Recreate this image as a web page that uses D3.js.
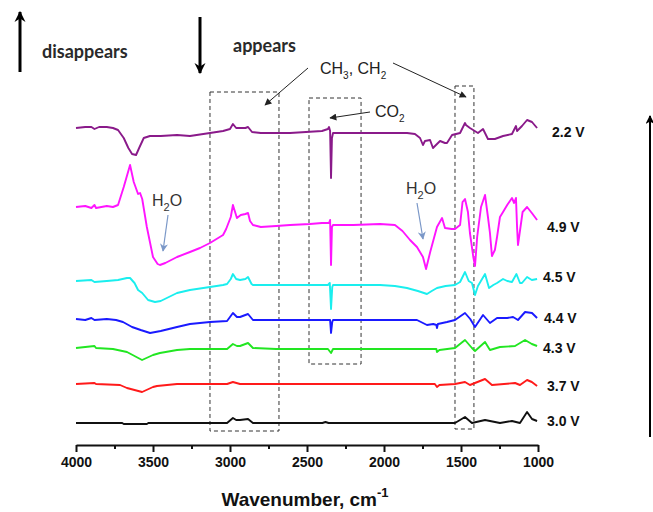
<!DOCTYPE html>
<html lang="en">
<head>
<meta charset="UTF-8">
<title>FTIR spectra vs voltage</title>
<script src="https://d3js.org/d3.v7.min.js"></script>
<style>
  body { margin: 0; background: #fff; font-family: "Liberation Sans", Arial, sans-serif; }
  .axis .domain, .axis line { stroke: #111; stroke-width: 2; }
  .axis text { font-family: "Liberation Sans", Arial, sans-serif; font-size: 14px; font-weight: bold; fill: #111; }
</style>
</head>
<body>
<div id="chart"></div>
<script>
// [wavenumber cm-1, absorbance change] per voltage
const spec30 = [[4000,0],[3700,0],[3690,-0.01],[3540,-0.01],[3530,0],[3019,0],[2981,0.05],[2960,0.03],[2935,0.03],[2883,0.04],[2851,0],[2400,0],[2380,0.01],[2360,0],[1539,0],[1474,0.06],[1429,0],[1344,0.03],[1247,0],[1169,0.02],[1117,0],[1071,0.11],[1039,0.04],[1006,0.02]];
const spec37 = [[4000,0],[3880,0.01],[3870,0],[3714,-0.01],[3669,-0.04],[3571,-0.08],[3500,-0.03],[3474,-0.02],[3344,0],[3019,0],[2981,0.02],[2935,0],[2700,0],[1800,0],[1670,0],[1656,-0.03],[1640,-0.01],[1539,0],[1474,0.02],[1442,-0.01],[1344,0.05],[1299,-0.01],[1149,0.01],[1117,-0.01],[1071,0.04],[1040,0.02],[1006,-0.02]];
const spec43 = [[4000,0],[3880,0.02],[3870,0],[3760,-0.01],[3669,-0.04],[3620,-0.08],[3571,-0.12],[3500,-0.07],[3455,-0.05],[3344,-0.02],[3260,-0.01],[3019,-0.01],[2981,0.04],[2955,0.02],[2935,0.02],[2883,0.05],[2851,0],[2700,-0.01],[2364,-0.01],[2344,-0.05],[2331,-0.01],[1800,-0.01],[1660,-0.01],[1656,-0.04],[1640,-0.02],[1539,0],[1474,0.08],[1429,0],[1409,-0.03],[1344,0.06],[1312,-0.02],[1247,0.01],[1149,0.02],[1084,0.08],[1040,0.04],[1006,0.02]];
const spec44 = [[4000,0],[3940,-0.01],[3900,0.01],[3880,-0.01],[3800,0],[3740,-0.01],[3695,-0.03],[3636,-0.08],[3580,-0.11],[3519,-0.14],[3450,-0.12],[3344,-0.08],[3260,-0.05],[3130,-0.03],[3019,-0.02],[2981,0.06],[2955,0.02],[2935,0.02],[2883,0.05],[2851,-0.01],[2700,-0.01],[2350,-0.01],[2344,-0.14],[2336,-0.03],[2331,-0.01],[1786,-0.01],[1721,-0.06],[1680,-0.05],[1660,-0.06],[1656,-0.09],[1650,-0.05],[1591,-0.03],[1539,-0.01],[1474,0.06],[1440,0],[1409,-0.08],[1357,0.04],[1312,-0.04],[1266,0.01],[1200,0.01],[1162,0.02],[1130,-0.01],[1084,0.07],[1039,0.06],[1006,0.01]];
const spec45 = [[4000,0],[3900,0.01],[3880,-0.01],[3800,0],[3727,0.01],[3669,0.03],[3649,0.03],[3620,-0.02],[3597,-0.09],[3570,-0.12],[3532,-0.19],[3487,-0.21],[3450,-0.2],[3344,-0.12],[3260,-0.09],[3130,-0.06],[3045,-0.04],[3019,-0.03],[2995,0.02],[2981,0.07],[2960,0.02],[2935,0.01],[2900,0.02],[2883,0.04],[2860,-0.03],[2851,-0.04],[2700,-0.04],[2364,-0.04],[2352,-0.02],[2344,-0.28],[2336,-0.06],[2331,-0.04],[2026,-0.04],[1929,-0.05],[1851,-0.07],[1780,-0.1],[1721,-0.13],[1690,-0.1],[1656,-0.07],[1600,-0.05],[1539,-0.04],[1506,-0.01],[1474,0.09],[1450,0],[1429,-0.02],[1409,-0.14],[1390,-0.05],[1344,0.07],[1318,-0.07],[1290,-0.04],[1266,-0.02],[1227,0.02],[1200,0],[1169,-0.01],[1140,0.07],[1117,-0.02],[1104,-0.02],[1071,0.04],[1040,0.01],[1006,0.02]];
const spec49 = [[4000,0],[3940,0.01],[3900,-0.01],[3880,0.02],[3870,-0.01],[3800,0.01],[3760,0],[3727,0.02],[3690,0.2],[3649,0.42],[3625,0.25],[3597,0.13],[3584,0.14],[3570,0.08],[3540,-0.2],[3500,-0.5],[3470,-0.57],[3455,-0.58],[3420,-0.56],[3344,-0.5],[3260,-0.45],[3195,-0.41],[3130,-0.36],[3045,-0.28],[3025,-0.22],[2995,-0.1],[2981,0.02],[2965,-0.06],[2955,-0.11],[2930,-0.08],[2900,-0.07],[2883,-0.06],[2870,-0.14],[2851,-0.18],[2800,-0.2],[2700,-0.19],[2610,-0.18],[2481,-0.17],[2403,-0.16],[2357,-0.16],[2350,-0.13],[2344,-0.58],[2338,-0.2],[2331,-0.18],[2200,-0.18],[2026,-0.17],[1929,-0.18],[1880,-0.24],[1831,-0.33],[1786,-0.4],[1747,-0.5],[1727,-0.62],[1700,-0.45],[1656,-0.2],[1623,-0.11],[1604,-0.21],[1560,-0.22],[1539,-0.22],[1506,-0.18],[1490,0.05],[1474,0.08],[1455,-0.05],[1442,-0.26],[1420,-0.5],[1409,-0.59],[1395,-0.3],[1370,0],[1344,0.12],[1325,-0.1],[1312,-0.26],[1299,-0.49],[1280,-0.43],[1266,-0.3],[1247,-0.1],[1227,-0.05],[1200,0.02],[1169,0.09],[1155,0.04],[1143,0.09],[1136,-0.2],[1130,-0.38],[1100,-0.05],[1071,0],[1040,-0.06],[1006,-0.13]];
const spec22 = [[4000,0],[3940,0.01],[3900,0.01],[3880,-0.01],[3850,0.01],[3800,0.01],[3760,0],[3727,-0.02],[3690,-0.1],[3660,-0.2],[3636,-0.26],[3610,-0.27],[3590,-0.2],[3560,-0.1],[3520,-0.08],[3450,-0.08],[3344,-0.07],[3260,-0.08],[3130,-0.05],[3045,-0.03],[3000,-0.01],[2981,0.04],[2960,0],[2935,0],[2900,0],[2883,0.01],[2857,-0.04],[2800,-0.05],[2610,-0.05],[2403,-0.03],[2364,-0.01],[2357,0.01],[2350,-0.03],[2344,-0.5],[2338,-0.1],[2331,-0.05],[2026,-0.05],[1850,-0.05],[1799,-0.06],[1766,-0.1],[1747,-0.17],[1734,-0.13],[1701,-0.12],[1682,-0.2],[1669,-0.18],[1636,-0.13],[1604,-0.15],[1591,-0.15],[1558,-0.07],[1506,-0.05],[1474,0.05],[1468,0.03],[1442,0],[1390,-0.05],[1357,-0.01],[1325,-0.11],[1280,-0.11],[1227,-0.08],[1169,-0.06],[1143,0.02],[1136,-0.03],[1104,0.02],[1071,0.08],[1039,0.06],[1006,0]];

const spectra = [spec30, spec37, spec43, spec44, spec45, spec49, spec22];
const voltages = ["3.0 V", "3.7 V", "4.3 V", "4.4 V", "4.5 V", "4.9 V", "2.2 V"];
const offsets = [0.22, 0.61, 0.97, 1.26, 1.64, 2.38, 3.17];
const colors = ["#111111", "#ff1a1a", "#22e622", "#1a1aff", "#1aeeee", "#ff14ff", "#8a1a8a"];
const xTicks = [4000, 3500, 3000, 2500, 2000, 1500, 1000];
const xMinorTicks = [3750, 3250, 2750, 2250, 1750, 1250];
// dashed regions: [wn from, wn to, abs bottom, abs top]
const boxes = [[3130, 2682, 0.14, 3.53], [2487, 2149, 0.81, 3.47], [1539, 1416, 0.16, 3.59]];

const W = 653, H = 512;
const svg = d3.select("#chart").append("svg")
  .attr("width", W).attr("height", H);

const x = d3.scaleLinear().domain([4000, 1000]).range([76, 538]);
const y = d3.scaleLinear().domain([0, 3.3]).range([445, 115]);

// arrowheads
const defs = svg.append("defs");
function marker(id, w, h, color, notch) {
  defs.append("marker")
    .attr("id", id)
    .attr("viewBox", "0 0 10 10")
    .attr("refX", 9).attr("refY", 5)
    .attr("markerUnits", "userSpaceOnUse")
    .attr("markerWidth", w).attr("markerHeight", h)
    .attr("orient", "auto")
    .append("path")
    .attr("d", notch ? "M0,0 L10,5 L0,10 L3,5 z" : "M0,0 L10,5 L0,10 z")
    .attr("fill", color);
}
marker("big", 11, 13, "#000", true);
marker("side", 9, 9, "#000", true);
marker("thin", 8, 7, "#222", false);
marker("blue", 9, 8, "#7b98c8", true);

// x axis
svg.append("g")
  .attr("class", "axis")
  .attr("transform", "translate(0,445)")
  .call(d3.axisBottom(x).tickValues(xMinorTicks).tickSize(4).tickFormat(""))
  .select(".domain").remove();
svg.append("g")
  .attr("class", "axis")
  .attr("transform", "translate(0,445)")
  .call(d3.axisBottom(x).tickValues(xTicks).tickSize(7).tickSizeOuter(0).tickPadding(5).tickFormat(d3.format("d")));

const xl = svg.append("text")
  .attr("x", 305).attr("y", 506)
  .attr("text-anchor", "middle")
  .style("font-size", "19px").style("font-weight", "bold").style("fill", "#111")
  .text("Wavenumber, cm");
xl.append("tspan").attr("dy", -9).style("font-size", "13px").text("-1");

// dashed boxes
svg.selectAll(".box").data(boxes).enter().append("rect")
  .attr("x", d => x(d[0])).attr("width", d => x(d[1]) - x(d[0]))
  .attr("y", d => y(d[3])).attr("height", d => y(d[2]) - y(d[3]))
  .attr("fill", "none").attr("stroke", "#333").attr("stroke-width", 1)
  .attr("stroke-dasharray", "4,3");

// spectra
const line = d3.line().x(d => x(d[0]));
spectra.forEach((s, i) => {
  svg.append("path")
    .datum(s)
    .attr("fill", "none")
    .attr("stroke", colors[i])
    .attr("stroke-width", 1.9)
    .attr("stroke-linejoin", "round")
    .attr("d", line.y(d => y(offsets[i] + d[1])));
});

// voltage labels
const labelNudge = [[0, 0], [0, 0], [-4, 2], [-3, 0], [-4, -2], [0, 7], [5, 4]];
spectra.forEach((s, i) => {
  const last = s[s.length - 1];
  svg.append("text")
    .attr("x", 547 + labelNudge[i][0])
    .attr("y", y(offsets[i] + last[1]) + labelNudge[i][1])
    .attr("dy", "0.35em")
    .style("font-size", "14px").style("font-weight", "bold").style("fill", "#111")
    .text(voltages[i]);
});

// top legend arrows
svg.append("line").attr("x1", 20).attr("y1", 72).attr("x2", 20).attr("y2", 12)
  .attr("stroke", "#000").attr("stroke-width", 3).attr("marker-end", "url(#big)");
svg.append("text").attr("x", 42).attr("y", 58)
  .style("font-family", "Lato, sans-serif").style("font-size", "18px").style("font-weight", "bold").style("fill", "#2a2a2a")
  .text("disappears");
svg.append("line").attr("x1", 200).attr("y1", 17).attr("x2", 200).attr("y2", 73)
  .attr("stroke", "#000").attr("stroke-width", 3).attr("marker-end", "url(#big)");
svg.append("text").attr("x", 233).attr("y", 52)
  .style("font-family", "Lato, sans-serif").style("font-size", "18px").style("font-weight", "bold").style("fill", "#2a2a2a")
  .text("appears");

// right side arrow
svg.append("line").attr("x1", 650).attr("y1", 437).attr("x2", 650).attr("y2", 116)
  .attr("stroke", "#000").attr("stroke-width", 2).attr("marker-end", "url(#side)");

// CH3, CH2 annotation
const ch = svg.append("text").attr("x", 320).attr("y", 74)
  .style("font-size", "16px").style("fill", "#222");
ch.append("tspan").text("CH");
ch.append("tspan").attr("dy", 5).style("font-size", "10px").text("3");
ch.append("tspan").attr("dy", -5).text(", CH");
ch.append("tspan").attr("dy", 5).style("font-size", "10px").text("2");
svg.append("line").attr("x1", 308).attr("y1", 68).attr("x2", 265).attr("y2", 105)
  .attr("stroke", "#222").attr("stroke-width", 1).attr("marker-end", "url(#thin)");
svg.append("line").attr("x1", 393).attr("y1", 63).attr("x2", 466).attr("y2", 97)
  .attr("stroke", "#222").attr("stroke-width", 1).attr("marker-end", "url(#thin)");

// CO2 annotation
const co = svg.append("text").attr("x", 375).attr("y", 117)
  .style("font-size", "16px").style("fill", "#222");
co.append("tspan").text("CO");
co.append("tspan").attr("dy", 5).style("font-size", "10px").text("2");
svg.append("line").attr("x1", 370).attr("y1", 112).attr("x2", 330).attr("y2", 118)
  .attr("stroke", "#222").attr("stroke-width", 1).attr("marker-end", "url(#thin)");

// H2O annotations
function water(tx, ty, ax1, ay1, ax2, ay2) {
  const t = svg.append("text").attr("x", tx).attr("y", ty)
    .style("font-size", "16px").style("fill", "#333");
  t.append("tspan").text("H");
  t.append("tspan").attr("dy", 5).style("font-size", "11px").text("2");
  t.append("tspan").attr("dy", -5).text("O");
  svg.append("line").attr("x1", ax1).attr("y1", ay1).attr("x2", ax2).attr("y2", ay2)
    .attr("stroke", "#7b98c8").attr("stroke-width", 1.2).attr("marker-end", "url(#blue)");
}
water(152, 206, 168, 215, 163, 251);
water(406, 194, 417, 203, 423, 239);
</script>
</body>
</html>
